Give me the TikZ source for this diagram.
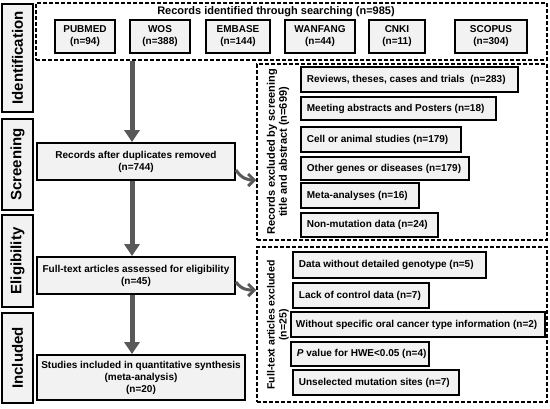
\documentclass[tikz,border=0pt]{standalone}
\usepackage{fontspec}
\setmainfont{Liberation Sans}
\usetikzlibrary{arrows.meta,calc}
\definecolor{boxgray}{HTML}{F2F2F2}
\definecolor{arrgray}{HTML}{595959}
\newcommand\lbtext[2]{\makebox[#1][l]{#2}}
\begin{document}
\begin{tikzpicture}[x=1pt,y=-1pt,font=\bfseries\fontsize{10}{12}\selectfont,
  solidbox/.style={draw, line width=1.8pt, fill=boxgray, inner sep=0pt, align=center},
  dashbox/.style={draw, line width=1.5pt, dash pattern=on 4pt off 2pt, inner sep=0pt},
  sidebox/.style={solidbox, rotate=90, font=\bfseries\fontsize{15}{18}\selectfont},
  listbox/.style={draw, line width=1.8pt, fill=boxgray, anchor=west, inner xsep=6pt, inner ysep=0pt},
  bigarrow/.style={draw=arrgray, line width=5pt, -{Triangle[length=12pt,width=15pt]}},
  bendarrow/.style={draw=arrgray, line width=3pt, -{Straight Barb[length=6pt,width=12pt]}},
  vlabel/.style={rotate=90, align=center, inner sep=0pt}]
\useasboundingbox (0,0) rectangle (550,408);

% side labels
\node[sidebox, minimum width=108pt, minimum height=31pt] (sid) at (17.5,58) {Identification};
\node[sidebox, minimum width=91pt, minimum height=31pt] (sscr) at (17.5,164.5) {Screening};
\node[sidebox, minimum width=92pt, minimum height=31pt] (selg) at (17.5,261) {Eligibility};
\node[sidebox, minimum width=90pt, minimum height=31pt] (sinc) at (17.5,358) {Included};

% identification
\node[dashbox, minimum width=511pt, minimum height=57pt] (top) at (291.5,31.5) {};
\node[font=\bfseries\fontsize{11}{13}\selectfont, inner sep=0pt] (title) at (276,11.5) {Records identified through searching (n=985)};
\node[solidbox, minimum width=60pt, minimum height=33pt] (pubmed) at (85,36.5) {PUBMED\\(n=94)};
\node[solidbox, minimum width=60pt, minimum height=33pt] (wos) at (160,36.5) {WOS\\(n=388)};
\node[solidbox, minimum width=64pt, minimum height=33pt] (embase) at (238,36.5) {EMBASE\\(n=144)};
\node[solidbox, minimum width=70pt, minimum height=33pt] (wanfang) at (320,36.5) {WANFANG\\(n=44)};
\node[solidbox, minimum width=56pt, minimum height=33pt] (cnki) at (397,36.5) {CNKI\\(n=11)};
\node[solidbox, minimum width=72pt, minimum height=33pt] (scopus) at (491,36.5) {SCOPUS\\(n=304)};

% main column
\node[solidbox, minimum width=198pt, minimum height=37pt] (rec) at (136,161.5) {Records after duplicates removed\\(n=744)};
\node[solidbox, minimum width=198pt, minimum height=37pt] (ft) at (136,275.5) {Full-text articles assessed for eligibility\\(n=45)};
\node[solidbox, minimum width=208pt, minimum height=45pt] (inc) at (141,377.5) {Studies included in quantitative synthesis\\(meta-analysis)\\(n=20)};

% excluded by screening
\node[dashbox, minimum width=290pt, minimum height=176pt] (ex1) at (402,152) {};
\node[vlabel, font=\bfseries\fontsize{11}{12}\selectfont] (l1) at (278,152) {Records excluded by screening\\title and abstract (n=699)};
\node[listbox, minimum height=25pt] (r1) at (300,79.5) {\lbtext{205pt}{Reviews, theses, cases and trials\ \ (n=283)}};
\node[listbox, minimum height=23pt] (r2) at (300,108.5) {\lbtext{183pt}{Meeting abstracts and Posters (n=18)}};
\node[listbox, minimum height=25pt] (r3) at (300,139.5) {\lbtext{148pt}{Cell or animal studies (n=179)}};
\node[listbox, minimum height=23pt] (r4) at (300,168.5) {\lbtext{156pt}{Other genes or diseases (n=179)}};
\node[listbox, minimum height=25pt] (r5) at (300,195.5) {\lbtext{106pt}{Meta-analyses (n=16)}};
\node[listbox, minimum height=24pt] (r6) at (300,225) {\lbtext{125pt}{Non-mutation data (n=24)}};

% full-text excluded
\node[dashbox, minimum width=290pt, minimum height=155pt] (ex2) at (402,324.5) {};
\node[vlabel, font=\bfseries\fontsize{10.5}{12}\selectfont] (l2) at (278,325) {Full-text articles excluded\\(n=25)};
\node[listbox, minimum height=26pt] (e1) at (292,265) {\lbtext{181pt}{Data without detailed genotype (n=5)}};
\node[listbox, minimum height=25pt] (e2) at (292,295.5) {\lbtext{124pt}{Lack of control data (n=7)}};
\node[listbox, inner xsep=5pt, minimum height=25pt] (e3) at (290,324.5) {\lbtext{244pt}{Without specific oral cancer type information (n=2)}};
\node[listbox, minimum height=24pt] (e4) at (290,354) {\lbtext{126pt}{\textit{P} value for HWE<0.05 (n=4)}};
\node[listbox, minimum height=25pt] (e5) at (292,382.5) {\lbtext{154pt}{Unselected mutation sites (n=7)}};

% arrows
\coordinate (ax) at (132,0);
\draw[bigarrow] (top.south -| ax) -- (rec.north -| ax);
\draw[bigarrow] (rec.south -| ax) -- (ft.north -| ax);
\draw[bigarrow] (ft.south -| ax) -- (inc.north -| ax);
\draw[bendarrow] ([yshift=-8.5pt]rec.east) .. controls +(6,9) and +(-8,0) .. ([yshift=-28pt]ex1.west);
\draw[bendarrow] ([yshift=-6.5pt]ft.east) .. controls +(6,8) and +(-8,0) .. ([yshift=34.5pt]ex2.west);
\end{tikzpicture}
\end{document}
